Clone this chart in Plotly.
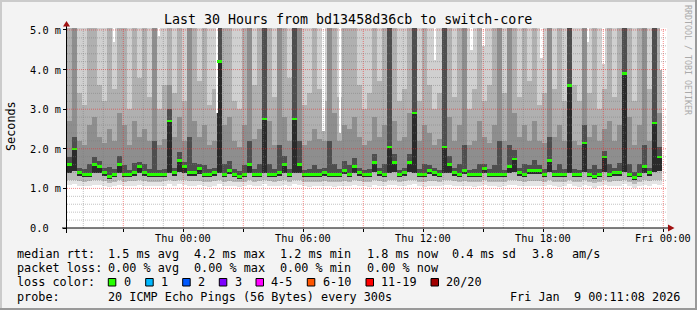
import plotly.graph_objects as go
from datetime import datetime, timedelta

# ---------------- data ----------------
title = "Last 30 Hours from bd13458d36cb to switch-core"
start = datetime(2026, 1, 7, 18, 11, 8)
end = start + timedelta(hours=30)
step_min = 15  # one column = 15 minutes

# median rtt per column (ms)
med = [
    1.60, 2.00, 1.40, 1.35, 1.35, 1.60, 1.55, 1.40, 1.30, 1.35,
    1.60, 1.35, 1.35, 1.40, 1.55, 1.40, 1.35, 1.35, 1.35, 1.35,
    2.70, 1.40, 1.70, 1.55, 1.40, 1.40, 1.50, 1.35, 1.35, 1.40,
    4.20, 1.35, 1.45, 1.35, 1.30, 1.35, 1.60, 1.35, 1.35, 2.75,
    1.35, 1.35, 1.40, 1.60, 1.35, 2.75, 1.60, 1.35, 1.35, 1.35,
    1.35, 1.40, 1.35, 1.35, 1.35, 1.45, 1.35, 1.55, 1.40, 1.35,
    1.35, 1.65, 1.40, 1.35, 2.05, 1.65, 1.35, 1.40, 1.65, 2.90,
    1.35, 1.35, 1.45, 1.40, 1.35, 2.05, 1.60, 1.40, 1.35, 1.45,
    1.35, 1.35, 1.35, 1.50, 1.35, 1.35, 1.35, 1.35, 1.55, 1.75,
    1.40, 1.35, 1.45, 1.45, 1.45, 1.35, 1.70, 1.35, 1.35, 1.35,
    3.60, 1.35, 1.35, 2.15, 1.35, 1.30, 1.35, 1.80, 1.35, 1.40,
    1.40, 3.90, 1.35, 1.28, 1.35, 1.55, 1.40, 2.65, 1.80,
]
# smoke below the median
lo_dark = [
    1.40, 1.45, 1.32, 1.28, 1.28, 1.40, 1.40, 1.32, 1.24, 1.28,
    1.40, 1.28, 1.28, 1.32, 1.38, 1.32, 1.28, 1.28, 1.28, 1.28,
    1.40, 1.32, 1.42, 1.38, 1.32, 1.32, 1.36, 1.28, 1.28, 1.32,
    1.40, 1.28, 1.36, 1.28, 1.24, 1.28, 1.40, 1.28, 1.28, 1.38,
    1.28, 1.28, 1.32, 1.40, 1.28, 1.38, 1.40, 1.28, 1.28, 1.28,
    1.28, 1.32, 1.28, 1.28, 1.28, 1.36, 1.28, 1.38, 1.32, 1.28,
    1.28, 1.42, 1.32, 1.28, 1.40, 1.42, 1.28, 1.32, 1.42, 1.40,
    1.28, 1.28, 1.36, 1.32, 1.28, 1.40, 1.40, 1.32, 1.28, 1.36,
    1.28, 1.28, 1.28, 1.38, 1.28, 1.28, 1.28, 1.28, 1.38, 1.42,
    1.32, 1.28, 1.36, 1.36, 1.36, 1.28, 1.42, 1.28, 1.28, 1.28,
    1.40, 1.28, 1.28, 1.42, 1.28, 1.24, 1.28, 1.42, 1.28, 1.32,
    1.32, 1.42, 1.28, 1.22, 1.28, 1.38, 1.32, 1.42, 1.45,
]
lo_mid = [
    1.20, 1.22, 1.18, 1.17, 1.18, 1.20, 1.20, 1.18, 1.14, 1.16,
    1.20, 1.17, 1.18, 1.18, 1.20, 1.18, 1.16, 1.17, 1.17, 1.18,
    1.22, 1.18, 1.22, 1.20, 1.18, 1.18, 1.19, 1.17, 1.16, 1.18,
    1.22, 1.17, 1.19, 1.17, 1.15, 1.17, 1.20, 1.17, 1.18, 1.22,
    1.18, 1.17, 1.18, 1.20, 1.17, 1.22, 1.20, 1.17, 1.16, 1.17,
    1.17, 1.18, 1.17, 1.16, 1.17, 1.19, 1.17, 1.20, 1.18, 1.17,
    1.16, 1.21, 1.18, 1.17, 1.20, 1.21, 1.17, 1.18, 1.21, 1.22,
    1.17, 1.16, 1.19, 1.18, 1.17, 1.20, 1.20, 1.18, 1.17, 1.19,
    1.17, 1.16, 1.17, 1.20, 1.17, 1.17, 1.16, 1.17, 1.20, 1.21,
    1.18, 1.17, 1.19, 1.19, 1.19, 1.17, 1.21, 1.17, 1.16, 1.17,
    1.22, 1.17, 1.16, 1.21, 1.17, 1.14, 1.17, 1.21, 1.17, 1.18,
    1.18, 1.22, 1.17, 1.12, 1.17, 1.20, 1.18, 1.22, 1.21,
]
lo_min = [
    1.08, 1.10, 1.06, 1.05, 1.07, 1.09, 1.08, 1.06, 1.03, 1.05,
    1.08, 1.06, 1.07, 1.06, 1.09, 1.06, 1.05, 1.06, 1.05, 1.06,
    1.10, 1.06, 1.10, 1.08, 1.06, 1.07, 1.08, 1.05, 1.04, 1.06,
    1.10, 1.05, 1.07, 1.05, 1.03, 1.05, 1.08, 1.05, 1.06, 1.10,
    1.06, 1.05, 1.06, 1.08, 1.05, 1.10, 1.08, 1.05, 1.04, 1.05,
    1.05, 1.06, 1.05, 1.04, 1.05, 1.07, 1.05, 1.08, 1.06, 1.05,
    1.04, 1.09, 1.06, 1.05, 1.08, 1.09, 1.05, 1.06, 1.09, 1.10,
    1.05, 1.04, 1.07, 1.06, 1.05, 1.08, 1.08, 1.06, 1.05, 1.07,
    1.05, 1.04, 1.05, 1.08, 1.05, 1.05, 1.04, 1.05, 1.08, 1.09,
    1.06, 1.05, 1.07, 1.07, 1.07, 1.05, 1.09, 1.05, 1.04, 1.05,
    1.10, 1.05, 1.04, 1.09, 1.05, 1.02, 1.05, 1.09, 1.05, 1.06,
    1.06, 1.10, 1.05, 1.00, 1.05, 1.08, 1.06, 1.10, 1.09,
]
# smoke above the median (values above 5.05 run off the top)
up_dark = [
    1.80, 2.30, 1.52, 1.48, 1.62, 1.80, 1.68, 1.52, 1.55, 1.48,
    1.82, 1.60, 1.47, 1.65, 1.67, 1.62, 1.48, 2.20, 1.47, 1.50,
    3.00, 1.52, 1.92, 1.67, 2.30, 1.65, 1.62, 1.60, 1.48, 1.52,
    6.00, 1.62, 1.70, 1.48, 1.44, 1.60, 2.20, 1.48, 1.62, 6.00,
    1.62, 1.48, 2.10, 1.82, 1.48, 6.00, 2.20, 1.47, 1.48, 1.60,
    1.48, 1.52, 2.20, 1.62, 1.48, 1.70, 1.60, 1.78, 1.52, 1.47,
    1.48, 1.88, 1.52, 1.62, 6.00, 1.88, 1.47, 1.52, 1.88, 6.00,
    1.48, 1.62, 1.58, 1.52, 1.47, 6.00, 1.82, 1.52, 1.62, 2.10,
    1.47, 1.48, 1.62, 1.62, 1.48, 1.60, 2.20, 1.47, 2.10, 1.98,
    1.52, 1.62, 1.58, 1.72, 1.58, 1.48, 2.30, 1.47, 1.62, 1.48,
    6.00, 1.48, 1.47, 2.60, 1.48, 1.58, 1.48, 1.95, 1.62, 1.52,
    1.65, 6.00, 1.62, 1.42, 1.62, 2.10, 1.52, 6.00, 2.05,
]
up_mid = [
    2.70, 6.00, 2.20, 2.10, 2.60, 2.80, 2.30, 2.15, 2.50, 2.20,
    2.90, 2.60, 2.10, 2.70, 2.30, 2.50, 2.20, 6.00, 2.10, 2.25,
    3.60, 2.30, 2.80, 2.20, 6.00, 2.70, 2.30, 2.60, 2.10, 2.20,
    6.00, 2.60, 2.80, 2.20, 2.05, 2.60, 6.00, 2.25, 2.50, 6.00,
    2.70, 2.10, 6.00, 2.80, 2.20, 6.00, 6.00, 2.10, 2.20, 2.50,
    2.25, 2.20, 6.00, 2.90, 2.20, 2.60, 2.50, 2.80, 2.30, 2.10,
    2.20, 2.80, 2.30, 2.60, 6.00, 2.70, 2.20, 2.30, 2.90, 6.00,
    2.20, 2.60, 2.40, 2.10, 2.25, 6.00, 2.80, 2.20, 2.60, 6.00,
    2.10, 2.20, 2.70, 2.30, 2.15, 2.60, 6.00, 2.20, 6.00, 2.90,
    2.30, 2.60, 2.20, 2.70, 2.20, 2.15, 6.00, 2.30, 2.60, 2.20,
    6.00, 2.20, 2.10, 6.00, 2.30, 2.60, 2.20, 2.50, 2.70, 2.20,
    2.60, 6.00, 2.80, 2.10, 2.60, 6.00, 2.20, 6.00, 2.90,
]
up_light = [
    6.0, 6.0, 3.4, 3.1, 6.0, 6.0, 3.6, 3.2, 6.0, 3.5,
    6.0, 6.0, 3.0, 6.0, 3.8, 6.0, 3.3, 6.0, 3.0, 3.6,
    6.0, 3.4, 6.0, 3.2, 6.0, 6.0, 3.7, 6.0, 3.1, 3.5,
    6.0, 6.0, 6.0, 3.2, 3.0, 6.0, 6.0, 3.6, 6.0, 6.0,
    6.0, 3.3, 6.0, 6.0, 3.8, 6.0, 6.0, 3.1, 3.4, 6.0,
    3.5, 3.2, 6.0, 6.0, 3.3, 6.0, 6.0, 6.0, 3.6, 3.0,
    3.4, 6.0, 3.7, 6.0, 6.0, 6.0, 3.2, 3.5, 6.0, 6.0,
    3.2, 6.0, 3.6, 3.0, 3.4, 6.0, 6.0, 3.3, 6.0, 6.0,
    3.0, 3.5, 6.0, 3.2, 3.6, 6.0, 6.0, 3.4, 6.0, 6.0,
    3.3, 6.0, 3.7, 6.0, 3.1, 3.4, 6.0, 3.5, 6.0, 3.2,
    6.0, 3.6, 3.2, 6.0, 3.4, 6.0, 3.0, 3.5, 6.0, 3.3,
    6.0, 6.0, 6.0, 3.2, 6.0, 6.0, 3.5, 6.0, 6.0,
]
# thin white gaps at the top of the smoke (max ping below the top)
gap_times = ["2026-01-07 20:32", "2026-01-07 22:47", "2026-01-08 01:41",
             "2026-01-08 07:01", "2026-01-08 07:50", "2026-01-08 12:35",
             "2026-01-08 14:25", "2026-01-08 15:01", "2026-01-08 17:55",
             "2026-01-08 20:14", "2026-01-08 21:01", "2026-01-08 23:53"]
gap_bottom = [4.70, 4.85, 2.90, 2.45, 2.40, 4.25, 4.50, 4.60, 4.30, 4.70, 4.15, 4.00]

y_ticks = [0, 1, 2, 3, 4, 5]
y_ticktext = ["0.0", "1.0 m", "2.0 m", "3.0 m", "4.0 m", "5.0 m"]
x_labels = ["Thu 00:00", "Thu 06:00", "Thu 12:00", "Thu 18:00", "Fri 00:00"]
x_label_times = [datetime(2026, 1, 8, 0), datetime(2026, 1, 8, 6), datetime(2026, 1, 8, 12),
                 datetime(2026, 1, 8, 18), datetime(2026, 1, 9, 0)]

loss_labels = ["0", "1", "2", "3", "4-5", "6-10", "11-19", "20/20"]
loss_colors = ["#26ff00", "#00b8ff", "#0059ff", "#7e00ff", "#ff00ff", "#ff5500", "#ff0000", "#a10000"]

rtt_stats = ["1.5 ms avg", "4.2 ms max", "1.2 ms min", "1.8 ms now", "0.4 ms sd", "3.8", "am/s"]
loss_stats = ["0.00 % avg", "0.00 % max", "0.00 % min", "0.00 % now"]
probe_text = "20 ICMP Echo Pings (56 Bytes) every 300s"
stamp_text = "Fri Jan \u00a09 00:11:08 2026"

# ---------------- figure ----------------
n = len(med)
times = [start + timedelta(minutes=step_min * (k + 0.5)) for k in range(n)]
W = step_min * 60 * 1000
TOP = 6.0
FONT = "DejaVu Sans Mono"

L, T, PW, PH = 67, 28, 600, 200


def PX(x):
    return (x - L) / PW


def PY(y):
    return (T + PH - y) / PH


fig = go.Figure()
bands = [
    (lo_min, lo_mid, "#e4e4e4"),
    (lo_mid, lo_dark, "#b8b8b8"),
    (lo_dark, med, "#2a2a2a"),
    (med, up_dark, "#4e4e4e"),
    (up_dark, up_mid, "#8e8e8e"),
    (up_mid, up_light, "#b0b0b0"),
    (up_light, [TOP] * n, "#d0d0d0"),
]
for lo, hi, c in bands:
    fig.add_trace(go.Bar(x=times, base=lo, y=[h - l for l, h in zip(lo, hi)], width=W,
                         marker=dict(color=c, line=dict(width=0)), hoverinfo="skip",
                         showlegend=False))
fig.add_trace(go.Bar(x=gap_times, base=gap_bottom, y=[TOP - b for b in gap_bottom],
                     width=W / 2, marker=dict(color="#ffffff", line=dict(width=0)),
                     hoverinfo="skip", showlegend=False))
fig.add_trace(go.Bar(x=times, base=[m - 0.03 for m in med], y=[0.06] * n, width=W,
                     marker=dict(color=loss_colors[0], line=dict(width=0)),
                     hoverinfo="skip", showlegend=False))

shapes = []
dot = "1px,1px"
red = "rgba(235,40,40,0.55)"
gray = "rgba(120,120,120,0.45)"
# vertical grid: minor every hour, major every 3 hours
t = datetime(2026, 1, 7, 19)
major_times = []
while t <= end:
    is_major = (t.hour % 3 == 0)
    if is_major:
        major_times.append(t)
    shapes.append(dict(type="line", xref="x", yref="paper", x0=t, x1=t, y0=0, y1=1,
                       line=dict(color=red if is_major else gray, width=1, dash=dot)))
    t += timedelta(hours=1)
# horizontal grid: minor every 0.2 ms, major every 1 ms
for k in range(1, 26):
    v = k * 0.2
    is_major = (k % 5 == 0)
    shapes.append(dict(type="line", xref="paper", yref="y", x0=0, x1=1, y0=v, y1=v,
                       line=dict(color=red if is_major else gray, width=1, dash=dot)))
# axes lines
shapes.append(dict(type="line", xref="paper", yref="paper", x0=PX(62), x1=PX(668), y0=PY(228), y1=PY(228),
                   line=dict(color="black", width=1)))
shapes.append(dict(type="line", xref="paper", yref="paper", x0=PX(66.5), x1=PX(66.5), y0=PY(233), y1=PY(26),
                   line=dict(color="black", width=1)))
# arrows
arrow = "#a01010"
shapes.append(dict(type="path", xref="paper", yref="paper",
                   path=f"M {PX(66.5)},{PY(21)} L {PX(63)},{PY(26.5)} L {PX(70)},{PY(26.5)} Z",
                   fillcolor=arrow, line=dict(width=0)))
shapes.append(dict(type="path", xref="paper", yref="paper",
                   path=f"M {PX(674.5)},{PY(228)} L {PX(668)},{PY(224.5)} L {PX(668)},{PY(231.5)} Z",
                   fillcolor=arrow, line=dict(width=0)))
# frame of the image
shapes.append(dict(type="rect", xref="paper", yref="paper", x0=PX(0), x1=PX(697), y0=PY(0), y1=PY(2),
                   fillcolor="#cbcbcb", line=dict(width=0)))
shapes.append(dict(type="rect", xref="paper", yref="paper", x0=PX(0), x1=PX(2), y0=PY(0), y1=PY(310),
                   fillcolor="#cbcbcb", line=dict(width=0)))
shapes.append(dict(type="rect", xref="paper", yref="paper", x0=PX(695), x1=PX(697), y0=PY(0), y1=PY(310),
                   fillcolor="#999999", line=dict(width=0)))
shapes.append(dict(type="rect", xref="paper", yref="paper", x0=PX(0), x1=PX(697), y0=PY(308), y1=PY(310),
                   fillcolor="#999999", line=dict(width=0)))
# loss colour boxes
box_x = [108.3, 145.7, 182.7, 219.3, 256.0, 307.3, 366.0, 431.0]
lab_x = [123.3, 160.7, 197.7, 234.3, 270.7, 322.7, 380.7, 445.0]
for bx, c in zip(box_x, loss_colors):
    shapes.append(dict(type="rect", xref="paper", yref="paper", x0=PX(bx), x1=PX(bx + 7.5),
                       y0=PY(278.5), y1=PY(286), fillcolor=c, line=dict(color="black", width=1)))

ann = []


def text(x, y, s, size=11.8, anchor="left", color="black", angle=0, xref="paper", yref="paper"):
    ann.append(dict(x=x, y=y, xref=xref, yref=yref, text=s, showarrow=False, xanchor=anchor,
                    yanchor="middle", textangle=angle, borderpad=0,
                    font=dict(family=FONT, size=size, color=color)))


text(PX(347.7), PY(19), title, size=13.3, anchor="center")
text(PX(11), PY(126), "Seconds", size=11.8, anchor="center", angle=-90)
text(PX(688), PY(60), "RRDTOOL / TOBI OETIKER", size=8.3, anchor="center", color="#aaaaaa", angle=90)
for v, s in zip(y_ticks, y_ticktext):
    text(PX(28.5), v, s, size=10.3, yref="y")
for t, s in zip(x_label_times, x_labels):
    text(t, PY(237.5), s, size=10.3, anchor="center", xref="x")

col_x = [107.3, 193.3, 279.3, 366.0, 451.7, 531.7, 571.7]
text(PX(15.5), PY(254.3), "median rtt:")
for x, s in zip(col_x, rtt_stats):
    text(PX(x - 0.5), PY(254.3), s)
text(PX(15.5), PY(268.3), "packet loss:")
for x, s in zip(col_x, loss_stats):
    text(PX(x - 0.5), PY(268.3), s)
text(PX(15.5), PY(282.3), "loss color:")
for x, s in zip(lab_x, loss_labels):
    text(PX(x - 0.5), PY(282.3), s)
text(PX(15.5), PY(296.6), "probe:")
text(PX(106.8), PY(296.6), probe_text)
text(PX(680.5), PY(296.6), stamp_text, anchor="right")

fig.update_layout(
    width=697, height=310,
    margin=dict(l=L, r=697 - L - PW, t=T, b=310 - T - PH, pad=0),
    paper_bgcolor="#f3f3f3", plot_bgcolor="#ffffff",
    barmode="overlay", bargap=0, showlegend=False,
    font=dict(family=FONT, size=11.8, color="black"),
    xaxis=dict(type="date", range=[start, end], showgrid=False, zeroline=False,
               showticklabels=False, ticks="outside", tickvals=major_times, ticklen=3,
               tickcolor="black", tickwidth=1, showline=False, fixedrange=True),
    yaxis=dict(range=[0, 5.05], showgrid=False, zeroline=False, showticklabels=False,
               ticks="outside", tickvals=y_ticks, ticklen=3, tickcolor="black", tickwidth=1,
               showline=False, fixedrange=True),
    shapes=shapes, annotations=ann,
)
fig.write_html("out.html")
